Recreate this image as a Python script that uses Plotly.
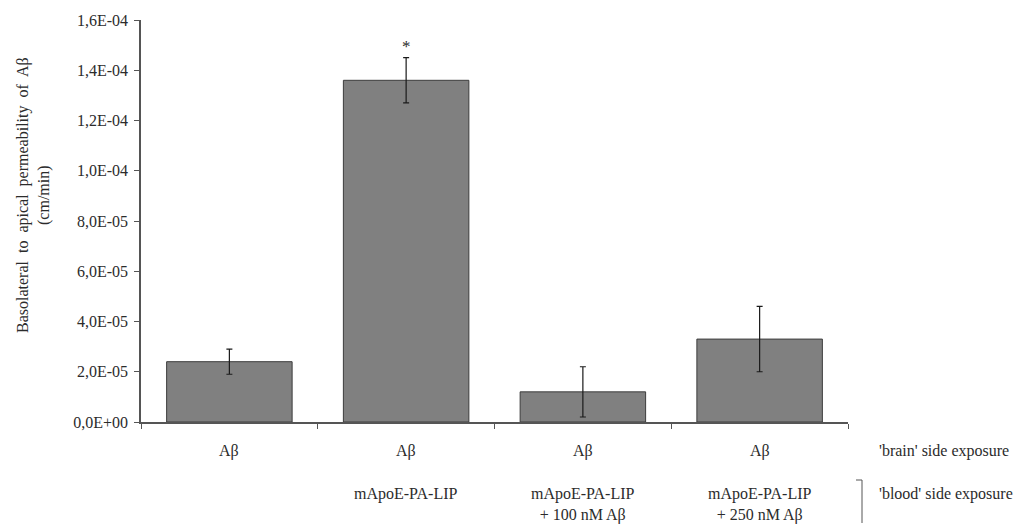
import plotly.graph_objects as go

# ---- data ----
categories = [0, 1, 2, 3]
values = [2.4e-05, 1.36e-04, 1.2e-05, 3.3e-05]
errors = [0.5e-05, 0.09e-04, 1.0e-05, 1.3e-05]
brain_labels = ["Aβ", "Aβ", "Aβ", "Aβ"]
blood_labels = ["", "mApoE-PA-LIP", "mApoE-PA-LIP<br>+ 100 nM Aβ", "mApoE-PA-LIP<br>+ 250 nM Aβ"]
ytick_vals = [0, 2e-05, 4e-05, 6e-05, 8e-05, 1e-04, 1.2e-04, 1.4e-04, 1.6e-04]
ytick_text = ["0,0E+00", "2,0E-05", "4,0E-05", "6,0E-05", "8,0E-05",
              "1,0E-04", "1,2E-04", "1,4E-04", "1,6E-04"]
xtick_bounds = [-0.5, 0.5, 1.5, 2.5, 3.5]
y_title = "Basolateral  to  apical  permeability  of  Aβ<br>(cm/min)"
row_labels = ["'brain' side exposure", "'blood' side exposure"]
significance = ["", "*", "", ""]

FONT = "Liberation Serif"
TXT = "#2b2b2b"
AX = "#555555"
FS = 16

fig = go.Figure()
fig.add_trace(go.Bar(
    x=categories, y=values, width=0.71,
    marker=dict(color="#808080", line=dict(color="#3c3c3c", width=1)),
    error_y=dict(type="data", array=errors, visible=True,
                 color="#1a1a1a", thickness=1.2, width=3),
    showlegend=False,
))

W, H = 1032, 524
L, R, T, B = 141, 184, 20, 102
pw, ph = W - L - R, H - T - B

ann = []
for c, lab in zip(categories, brain_labels):
    ann.append(dict(x=c, y=0, xref="x", yref="paper", text=lab, showarrow=False,
                    xanchor="center", yanchor="top", yshift=-18,
                    font=dict(family=FONT, size=FS, color=TXT)))
for c, lab in zip(categories, blood_labels):
    if lab:
        ann.append(dict(x=c, y=0, xref="paper" if False else "x", yref="paper", text=lab,
                        showarrow=False, xanchor="center", yanchor="top", yshift=-61,
                        font=dict(family=FONT, size=FS, color=TXT)))
for c, v, e, s in zip(categories, values, errors, significance):
    if s:
        ann.append(dict(x=c, y=v + e, xref="x", yref="y", text=s, showarrow=False,
                        xanchor="center", yanchor="bottom", yshift=0,
                        font=dict(family=FONT, size=17, color=TXT)))
ann.append(dict(x=1, y=0, xref="paper", yref="paper", text=row_labels[0], showarrow=False,
                xanchor="left", yanchor="top", xshift=29, yshift=-18,
                font=dict(family=FONT, size=FS, color=TXT)))
ann.append(dict(x=1, y=0, xref="paper", yref="paper", text=row_labels[1], showarrow=False,
                xanchor="left", yanchor="top", xshift=29, yshift=-61,
                font=dict(family=FONT, size=FS, color=TXT)))
# y-axis title
ann.append(dict(x=(34 - L) / pw, y=(H - B - 195) / ph, xref="paper", yref="paper",
                text=y_title, showarrow=False, textangle=-90,
                xanchor="center", yanchor="middle",
                font=dict(family=FONT, size=16, color=TXT)))

# bracket for 'blood' row
bx = (862 - L) / pw
bx0 = (856 - L) / pw
by0 = (H - B - 480) / ph
by1 = (H - B - 523) / ph
shapes = [
    dict(type="line", xref="paper", yref="paper", x0=bx, x1=bx, y0=by0, y1=by1,
         line=dict(color=AX, width=1)),
    dict(type="line", xref="paper", yref="paper", x0=bx0, x1=bx, y0=by0, y1=by0,
         line=dict(color=AX, width=1)),
]

fig.update_layout(
    width=W, height=H,
    margin=dict(l=L, r=R, t=T, b=B),
    paper_bgcolor="white", plot_bgcolor="white",
    annotations=ann, shapes=shapes,
    xaxis=dict(range=[-0.5, 3.5], tickvals=xtick_bounds, showticklabels=False,
               ticks="outside", ticklen=5, tickcolor=AX, showline=True,
               linecolor=AX, linewidth=1.5, showgrid=False, zeroline=False,
               fixedrange=True),
    yaxis=dict(range=[0, 1.6e-04], tickvals=ytick_vals, ticktext=ytick_text,
               ticks="outside", ticklen=5, tickcolor=AX, showline=True,
               linecolor=AX, linewidth=1.5, showgrid=False, zeroline=False,
               tickfont=dict(family=FONT, size=FS, color=TXT), ticklabelstandoff=3),
    font=dict(family=FONT, color=TXT),
)

fig.write_html("out.html")
